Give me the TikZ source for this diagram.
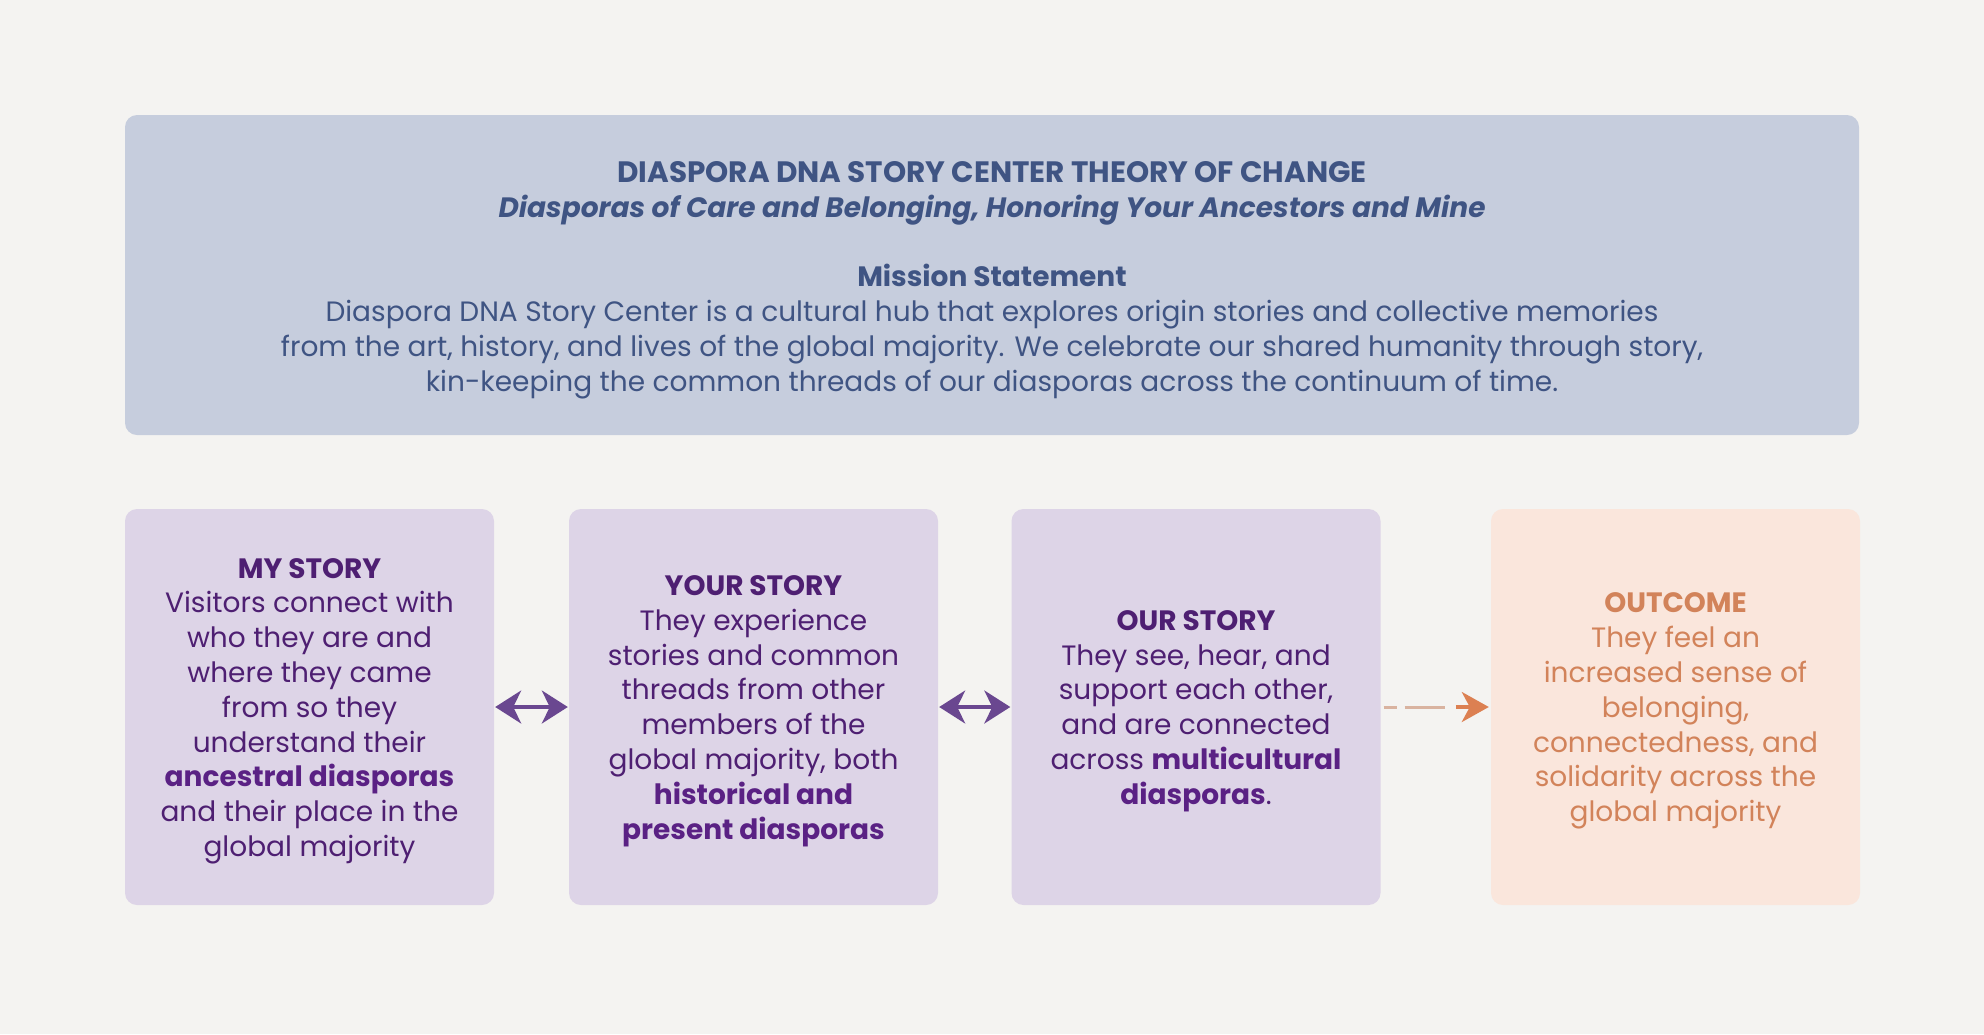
\documentclass[tikz,border=0pt]{standalone}
\usepackage{fontspec}
\setmainfont{Poppins}
\usetikzlibrary{arrows.meta}
\definecolor{bgc}{HTML}{F4F3F1}
\definecolor{topfill}{HTML}{C6CDDD}
\definecolor{toptext}{HTML}{3F5483}
\definecolor{storyfill}{HTML}{DDD4E7}
\definecolor{storytext}{HTML}{4E1F72}
\definecolor{storybold}{HTML}{5A2184}
\definecolor{arrowpurple}{HTML}{6A4790}
\definecolor{outfill}{HTML}{FAE6DC}
\definecolor{outtext}{HTML}{D2835A}
\definecolor{outarrow}{HTML}{DC8052}
\definecolor{outdash}{HTML}{D9B3A0}
\newcommand{\stb}[1]{{\bfseries\color{storybold}#1}}
\tikzset{
  panel/.style={rounded corners=12pt, minimum width=369pt, minimum height=396pt, inner sep=0pt},
  storybox/.style={panel, fill=storyfill},
  outbox/.style={panel, fill=outfill},
  boxtext/.style={align=center, font=\fontsize{28}{34.8}\selectfont, inner sep=0pt},
  dblarrow/.style={arrowpurple, line width=3.5pt, {Stealth[length=26pt,width=33pt,inset=8pt]}-{Stealth[length=26pt,width=33pt,inset=8pt]}},
}
\begin{document}
\begin{tikzpicture}[x=1pt,y=-1pt]
\fill[bgc] (0,0) rectangle (1984,1034);
\useasboundingbox (0,0) rectangle (1984,1034);

\node[rounded corners=12pt, fill=topfill, minimum width=1734pt, minimum height=320pt, inner sep=0pt] (top) at (992,275) {};
\node[boxtext, text=toptext] (toptxt) at (992,280) {%
{\fontsize{29.5}{34.8}\selectfont\bfseries DIASPORA DNA STORY CENTER THEORY OF CHANGE}\\
{\bfseries\itshape Diasporas of Care and Belonging, Honoring Your Ancestors and Mine}\\
~\\
{\bfseries Mission Statement}\\
Diaspora DNA Story Center is a cultural hub that explores origin stories and collective memories\\
from the art, history, and lives of the global majority. We celebrate our shared humanity through story,\\
kin-keeping the common threads of our diasporas across the continuum of time.};

\node[storybox] (b1) at (309.5,707) {};
\node[storybox] (b2) at (753.5,707) {};
\node[storybox] (b3) at (1196,707) {};
\node[outbox] (b4) at (1675.5,707) {};

\node[boxtext, text=storytext] (t1) at ([yshift=-4pt]b1.center) {%
{\bfseries MY STORY}\\
Visitors connect with\\
who they are and\\
where they came\\
from so they\\
understand their\\
\stb{ancestral diasporas}\\
and their place in the\\
global majority};

\node[boxtext, text=storytext] (t2) at ([yshift=-4pt]b2.center) {%
{\bfseries YOUR STORY}\\
They experience\\
stories and common\\
threads from other\\
members of the\\
global majority, both\\
\stb{historical and}\\
\stb{present diasporas}};

\node[boxtext, text=storytext] (t3) at ([yshift=-4pt]b3.center) {%
{\bfseries OUR STORY}\\
They see, hear, and\\
support each other,\\
and are connected\\
across \stb{multicultural}\\
\stb{diasporas}.};

\node[boxtext, text=outtext] (t4) at ([yshift=-4pt]b4.center) {%
{\bfseries OUTCOME}\\
They feel an\\
increased sense of\\
belonging,\\
connectedness, and\\
solidarity across the\\
global majority};

\draw[dblarrow, shorten <=1pt, shorten >=1pt] (b1) -- (b2);
\draw[dblarrow, shorten <=1pt, shorten >=1pt] (b2) -- (b3);
\draw[outdash, line width=3pt, dash pattern=on 13pt off 8pt on 40pt off 12pt on 30pt, shorten >=20pt, shorten <=3pt] (b3) -- (b4);
\draw[outarrow, line width=3.5pt, -{Stealth[length=27pt,width=30pt,inset=8pt]}, shorten >=2pt] ([xshift=-35pt]b4.west) -- (b4.west);
\end{tikzpicture}
\end{document}
